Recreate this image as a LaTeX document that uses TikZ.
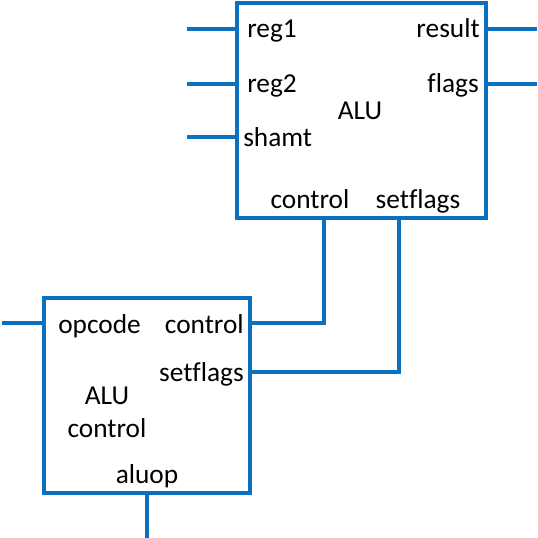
\documentclass[tikz,border=0pt]{standalone}
\usepackage{fontspec}
\setmainfont[Ligatures=NoCommon]{Carlito}
\definecolor{wire}{HTML}{0A70C0}
\begin{document}
\begin{tikzpicture}[x=0.75pt,y=-0.75pt,
  box/.style={draw=wire,line width=2.8pt},
  wireline/.style={draw=wire,line width=2.5pt},
  lbl/.style={inner sep=0pt,font=\fontsize{20.5}{24}\selectfont,text=black}]
\useasboundingbox (0,0) rectangle (538,538);
% ALU box
\draw[box] (237,3) rectangle (486,218);
% lower box
\draw[box] (44,298) rectangle (250,493);
% labels ALU
\node[lbl,anchor=base west] (reg1) at (247,38) {reg1};
\node[lbl,anchor=base west] (reg2) at (247,93) {reg2};
\node[lbl,anchor=base west] (shamt) at (243,147) {shamt};
\node[lbl,anchor=base east] (result) at (480,38) {result};
\node[lbl,anchor=base east] (flags) at (479,93) {flags};
\node[lbl,anchor=base] (alu) at (360,120) {ALU};
\node[lbl,anchor=base] (ctlA) at (310,209) {control};
\node[lbl,anchor=base] (sfA) at (418,209) {setflags};
% labels lower
\node[lbl,anchor=base west] (opcode) at (58,333) {opcode};
\node[lbl,anchor=base east] (ctlB) at (244,333) {control};
\node[lbl,anchor=base east] (sfB) at (244,381) {setflags};
\node[lbl,anchor=base] (aluc1) at (107,404) {ALU};
\node[lbl,anchor=base] (aluc2) at (107,437) {control};
\node[lbl,anchor=base] (aluop) at (147,483) {aluop};
% port coordinates
\coordinate (inR1) at (187,29);  \coordinate (pR1) at (237,29);
\coordinate (inR2) at (187,84);  \coordinate (pR2) at (237,84);
\coordinate (inSh) at (187,137); \coordinate (pSh) at (237,137);
\coordinate (pRes) at (486,29);  \coordinate (outRes) at (537,29);
\coordinate (pFl) at (486,84);   \coordinate (outFl) at (537,84);
\coordinate (pCA) at (324,218);  \coordinate (pSA) at (399,218);
\coordinate (inOp) at (2,323);   \coordinate (pOp) at (44,323);
\coordinate (pCB) at (250,323);  \coordinate (pSB) at (250,372);
\coordinate (pAO) at (147,493);  \coordinate (outAO) at (147,538);
% wires
\draw[wireline] (inR1) -- (pR1);
\draw[wireline] (inR2) -- (pR2);
\draw[wireline] (inSh) -- (pSh);
\draw[wireline] (pRes) -- (outRes);
\draw[wireline] (pFl) -- (outFl);
\draw[wireline] (inOp) -- (pOp);
\draw[wireline] (pCB) -| (pCA);
\draw[wireline] (pSB) -| (pSA);
\draw[wireline] (pAO) -- (outAO);
\end{tikzpicture}
\end{document}
